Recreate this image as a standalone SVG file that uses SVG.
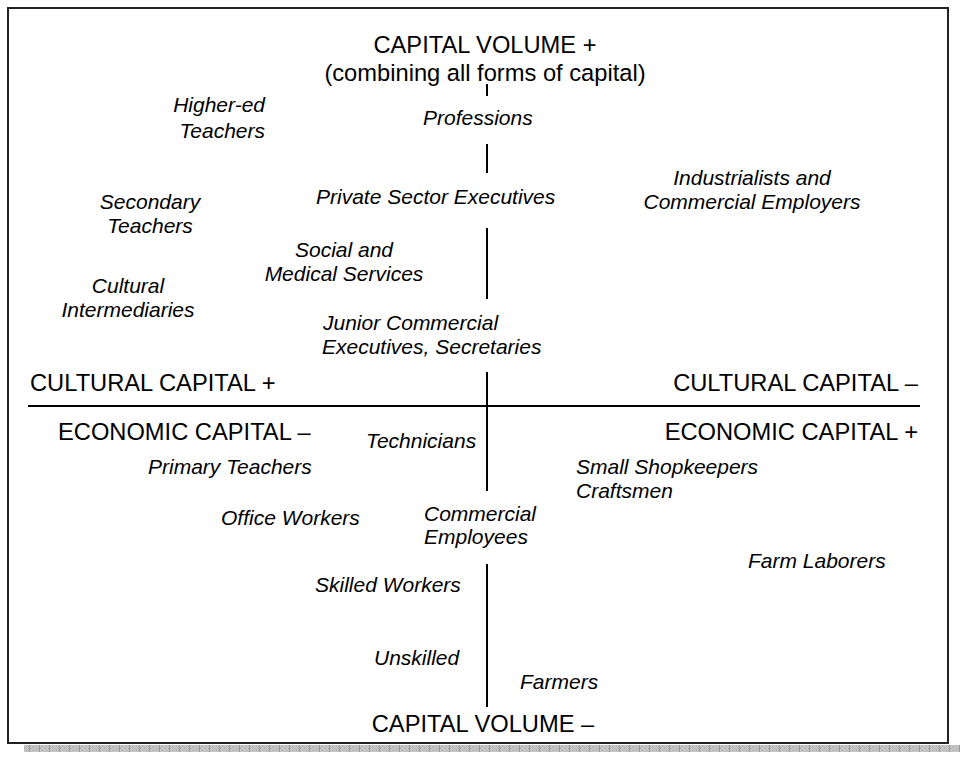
<svg xmlns="http://www.w3.org/2000/svg" width="967" height="761" viewBox="0 0 967 761">
  <style>
    .ax { font-family: "Liberation Sans", Arial, sans-serif; font-size: 23.7px; fill: #000; }
    .lb { font-family: "Liberation Sans", Arial, sans-serif; font-size: 21px; font-style: italic; fill: #000; }
    .axis { stroke: #000; stroke-width: 2; fill: none; }
  </style>
  <defs>
    <pattern id="shade" x="0" y="0" width="10" height="4" patternUnits="userSpaceOnUse">
      <rect width="10" height="4" fill="#c4c4c4"/>
      <rect x="0" y="0" width="1" height="1" fill="#a8a8a8"/>
      <rect x="2" y="2" width="1" height="1" fill="#a8a8a8"/>
      <rect x="4" y="0" width="1" height="1" fill="#a8a8a8"/>
      <rect x="6" y="2" width="1" height="1" fill="#a8a8a8"/>
      <rect x="8" y="0" width="1" height="1" fill="#a8a8a8"/>
      <rect x="9" y="0" width="1" height="4" fill="#9a9a9a"/>
    </pattern>
  </defs>
  <rect width="967" height="761" fill="#fff"/>
  <g id="frame">
    <rect x="24" y="745" width="936" height="7" fill="url(#shade)"/>
    <rect x="8" y="8" width="940" height="735" fill="#fff" stroke="#222" stroke-width="2"/>
  </g>
  <g id="connectors">
    <line class="axis" x1="487" y1="84" x2="487" y2="96"/>
    <line class="axis" x1="487" y1="144" x2="487" y2="173"/>
    <line class="axis" x1="487" y1="228" x2="487" y2="299"/>
    <line class="axis" x1="487" y1="372" x2="487" y2="491"/>
    <line class="axis" x1="487" y1="564" x2="487" y2="707"/>
    <line class="axis" x1="28" y1="406" x2="920" y2="406"/>
  </g>
  <g id="capital-volume-plus">
    <text class="ax" x="485" y="53" text-anchor="middle">CAPITAL VOLUME +</text>
    <text class="ax" x="485" y="81" text-anchor="middle">(combining all forms of capital)</text>
  </g>
  <g id="capital-volume-minus">
    <text class="ax" x="483" y="732" text-anchor="middle">CAPITAL VOLUME –</text>
  </g>
  <g id="cultural-plus"><text class="ax" x="30" y="391">CULTURAL CAPITAL +</text></g>
  <g id="cultural-minus"><text class="ax" x="918" y="391" text-anchor="end">CULTURAL CAPITAL –</text></g>
  <g id="economic-minus"><text class="ax" x="58" y="440">ECONOMIC CAPITAL –</text></g>
  <g id="economic-plus"><text class="ax" x="918" y="440" text-anchor="end">ECONOMIC CAPITAL +</text></g>

  <g id="higher-ed-teachers">
    <text class="lb" x="265" y="112" text-anchor="end">Higher-ed</text>
    <text class="lb" x="265" y="138" text-anchor="end">Teachers</text>
  </g>
  <g id="professions"><text class="lb" x="423" y="125">Professions</text></g>
  <g id="private-sector"><text class="lb" x="316" y="204">Private Sector Executives</text></g>
  <g id="industrialists">
    <text class="lb" x="752" y="185" text-anchor="middle">Industrialists and</text>
    <text class="lb" x="752" y="209" text-anchor="middle">Commercial Employers</text>
  </g>
  <g id="secondary-teachers">
    <text class="lb" x="150" y="209" text-anchor="middle">Secondary</text>
    <text class="lb" x="150" y="233" text-anchor="middle">Teachers</text>
  </g>
  <g id="social-medical">
    <text class="lb" x="344" y="257" text-anchor="middle">Social and</text>
    <text class="lb" x="344" y="281" text-anchor="middle">Medical Services</text>
  </g>
  <g id="cultural-intermediaries">
    <text class="lb" x="128" y="293" text-anchor="middle">Cultural</text>
    <text class="lb" x="128" y="317" text-anchor="middle">Intermediaries</text>
  </g>
  <g id="junior-commercial">
    <text class="lb" x="323" y="330">Junior Commercial</text>
    <text class="lb" x="322" y="354">Executives, Secretaries</text>
  </g>
  <g id="technicians"><text class="lb" x="366" y="448">Technicians</text></g>
  <g id="primary-teachers"><text class="lb" x="148" y="474">Primary Teachers</text></g>
  <g id="shopkeepers">
    <text class="lb" x="576" y="474">Small Shopkeepers</text>
    <text class="lb" x="576" y="498">Craftsmen</text>
  </g>
  <g id="office-workers"><text class="lb" x="221" y="525">Office Workers</text></g>
  <g id="commercial-employees">
    <text class="lb" x="424" y="521">Commercial</text>
    <text class="lb" x="424" y="544">Employees</text>
  </g>
  <g id="farm-laborers"><text class="lb" x="748" y="568">Farm Laborers</text></g>
  <g id="skilled-workers"><text class="lb" x="315" y="592">Skilled Workers</text></g>
  <g id="unskilled"><text class="lb" x="374" y="665">Unskilled</text></g>
  <g id="farmers"><text class="lb" x="520" y="689">Farmers</text></g>
</svg>
